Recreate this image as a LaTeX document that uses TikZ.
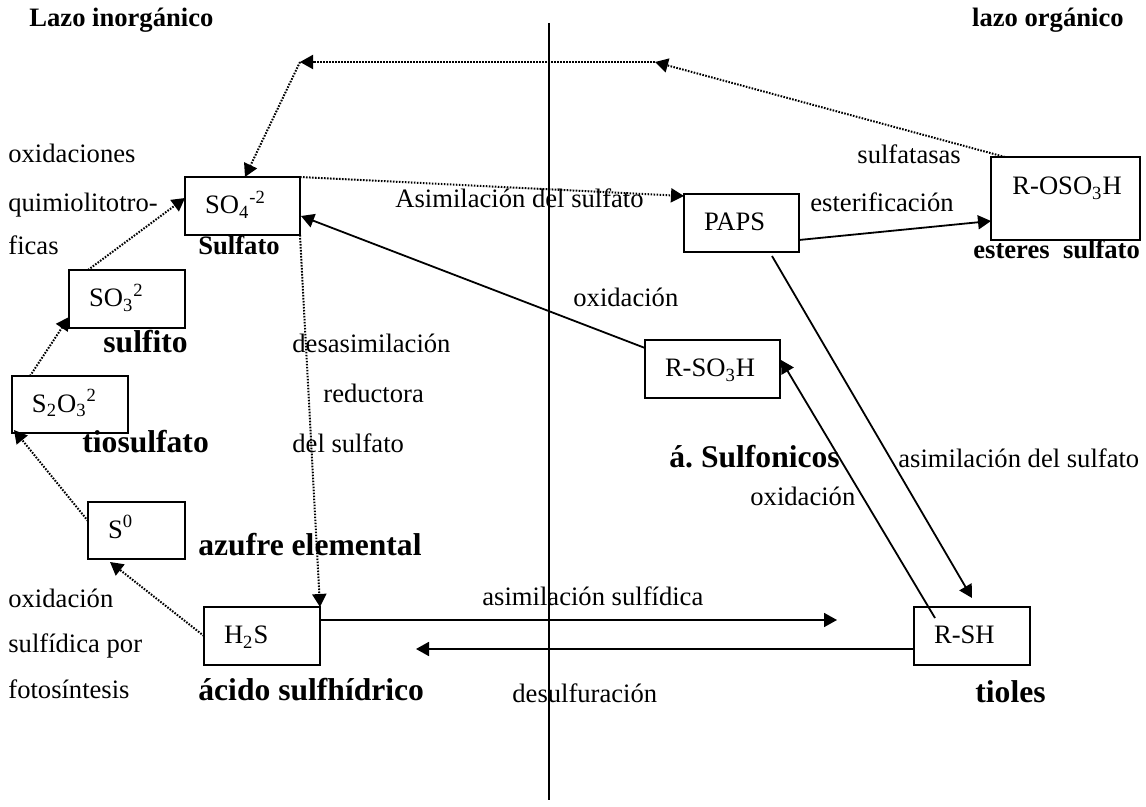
\documentclass[tikz,border=0pt]{standalone}
\usepackage{fontspec}
\setmainfont{Liberation Serif}
\usetikzlibrary{arrows.meta,calc}
\newcommand\nf{\fontsize{13.3}{16}\selectfont}
\newcommand\bbf{\fontsize{15.8}{19}\selectfont\bfseries}
\frenchspacing
\begin{document}
\begin{tikzpicture}[x=0.5pt,y=-0.5pt,
  box/.style={draw, line width=1pt, anchor=north west, inner xsep=10pt, inner ysep=0pt, outer sep=0pt, align=left, font=\nf, text height=0.78em, text depth=0em},
  lbl/.style={anchor=west, inner sep=0pt, font=\nf, text height=0.7em, text depth=0.2em},
  blbl/.style={lbl, font=\bbf},
  sblbl/.style={lbl, font=\nf\bfseries},
  conn/.style={line width=0.9pt, -{Triangle[length=6.5pt,width=7pt]}},
  dotc/.style={line width=1pt, dash pattern=on 0.8pt off 0.7pt, -{Triangle[length=6.5pt,width=7pt]}}]
\fill[white] (0,0) rectangle (1146,807);
\useasboundingbox (0,0) rectangle (1146,807);
% divider
\coordinate (vt) at (549,23);
\coordinate (vb) at (549,800);
\draw[line width=1.3pt] (vt) -- (vb);
% headers
\node[sblbl] (hl) at (29,22) {Lazo inorgánico};
\node[sblbl, anchor=east] (hr) at (1124,22) {lazo orgánico};
% boxes
\node[box, text width=37.5pt, minimum height=29pt] (so4) at (185,177) {SO\textsubscript{4}\textsuperscript{-2}};
\node[box, text width=38pt, minimum height=29pt] (so3) at (69,270) {SO\textsubscript{3}\textsuperscript{2}};
\node[box, text width=38pt, minimum height=28.5pt] (s2o3) at (12,376) {S\textsubscript{2}O\textsubscript{3}\textsuperscript{2}};
\node[box, text width=28.5pt, minimum height=28.5pt] (s0) at (88,502) {S\textsuperscript{0}};
\node[box, text width=38pt, minimum height=29pt] (h2s) at (204,607) {H\textsubscript{2}S};
\node[box, text width=37.5pt, minimum height=29pt] (paps) at (684,194) {PAPS};
\node[box, text width=47.5pt, minimum height=29pt] (rso3h) at (645,340) {R-SO\textsubscript{3}H};
\node[box, minimum width=74.5pt, minimum height=41.5pt] (rosoh) at (991,157) {};
\node[lbl] (rosohT) at (1012,190) {R-OSO\textsubscript{3}H};
\node[box, text width=38pt, minimum height=29pt] (rsh) at (914,607) {R-SH};
% labels left
\node[lbl] (t1) at (8,158) {oxidaciones};
\node[lbl] (t2) at (8,207) {quimiolitotro-};
\node[lbl] (t3) at (8,250) {ficas};
\node[sblbl] (lsulfato) at (198,250) {Sulfato};
\node[blbl] (lsulfito) at (103,348) {sulfito};
\node[blbl] (ltio) at (82,448) {tiosulfato};
\node[blbl] (laz) at (198,550) {azufre elemental};
\node[lbl] (t4) at (8,602) {oxidación};
\node[lbl] (t5) at (8,647) {sulfídica por};
\node[lbl] (t6) at (8,693) {fotosíntesis};
\node[blbl] (lacido) at (198,695) {ácido sulfhídrico};
\node[lbl] (d1) at (292,348) {desasimilación};
\node[lbl] (d2) at (323,398) {reductora};
\node[lbl] (d3) at (292,448) {del sulfato};
\node[lbl] (asim) at (395,203) {Asimilación del sulfato};
\node[lbl] (ox1) at (573,302) {oxidación};
\node[lbl] (sulfatasas) at (857,159) {sulfatasas};
\node[lbl] (ester) at (810,207) {esterificación};
\node[sblbl] (esteres) at (973,254) {esteres~ sulfato};
\node[blbl] (sulfon) at (669,463) {á. Sulfonicos};
\node[lbl] (asim2) at (898,463) {asimilación del sulfato};
\node[lbl] (ox2) at (750,500) {oxidación};
\node[lbl] (asimsulf) at (482,600) {asimilación sulfídica};
\node[lbl] (desulf) at (512,697) {desulfuración};
\node[blbl] (tioles) at (975,697) {tioles};
% dotted connectors
\coordinate (tr) at (655,62);
\coordinate (tl) at (300,62);
\draw[dotc] ($(rosoh.north west)+(14,0)$) -- (tr);
\draw[dotc] (tr) -- (tl);
\draw[dotc] (tl) -- ($(so4.north west)+(60,0)$);
\draw[dotc] (so4.north east) -- ($(paps.north west)+(0,2)$);
\draw[dotc] ($(so3.north west)+(19,0)$) -- ($(so4.north west)+(0,21)$);
\draw[dotc] ($(s2o3.north west)+(18,0)$) -- ($(so3.south west)+(0,-11)$);
\draw[dotc] ($(s0.north west)+(0,19)$) -- ($(s2o3.south west)+(2,-3)$);
\draw[dotc] (h2s.west) -- ($(s0.south west)+(22,3)$);
\draw[dotc] (so4.south east) -- (h2s.north east);
% solid connectors
\draw[conn] ($(rso3h.north west)+(0,8)$) -- ($(so4.north east)+(1,39)$);
\draw[conn] ($(paps.south east)+(0,-12)$) -- ($(rosoh.north west)+(0,64)$);
\draw[conn] ($(paps.south east)+(-27,4)$) -- ($(rsh.north)+(0,-9)$);
\draw[conn] ($(rsh.north west)+(21,11)$) -- ($(rso3h.north east)+(1,20)$);
\coordinate (asEnd) at (837,620);
\draw[conn] ($(h2s.north east)+(0,13)$) -- (asEnd);
\coordinate (deEnd) at (416,649);
\draw[conn] ($(rsh.north west)+(0,42)$) -- (deEnd);
\end{tikzpicture}
\end{document}
